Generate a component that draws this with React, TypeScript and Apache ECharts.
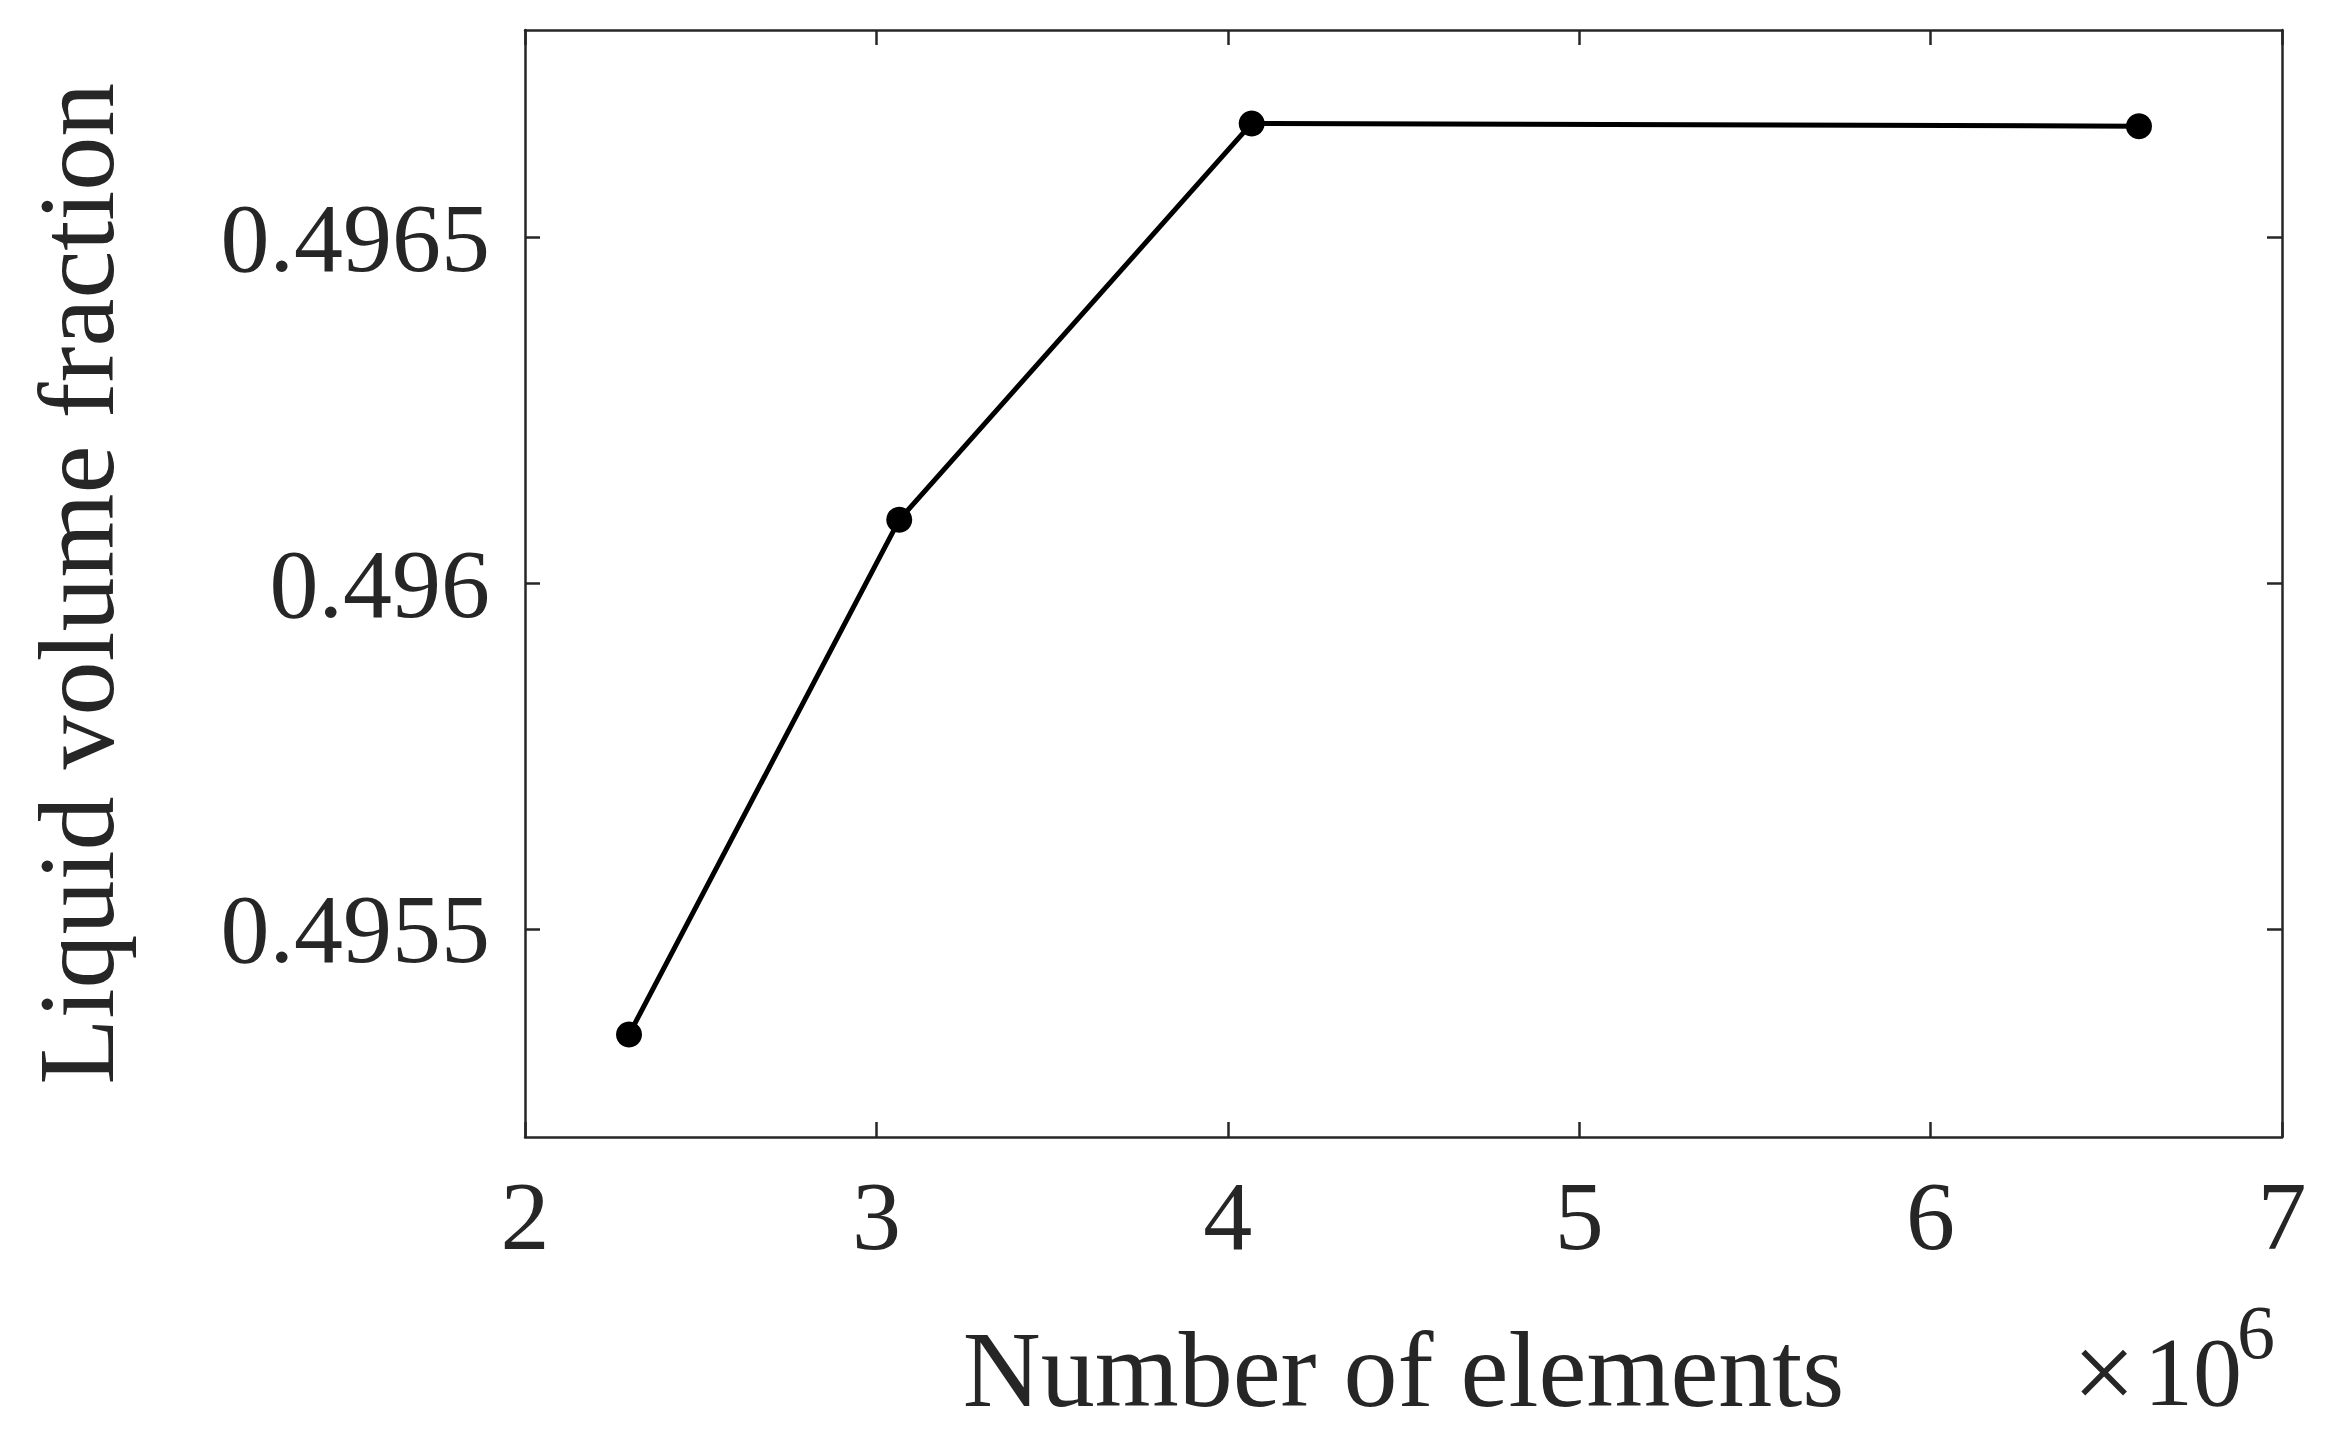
import React, { useEffect, useRef } from "react";
import * as echarts from "echarts";

// Number of elements (in units of 10^6)
const elementsMillions = [2.296, 3.065, 4.068, 6.593];
// Liquid volume fraction
const liquidFraction = [0.495348, 0.496092, 0.496665, 0.496661];

const xTickValues = [2, 3, 4, 5, 6, 7];
const yTickValues = [0.4955, 0.496, 0.4965];

const xName = "Number of elements";
const yName = "Liquid volume fraction";
const scaleTimes = "×";
const scaleBase = "10";
const scaleExp = "6";

const FONT = "Liberation Serif";
const TXT = "#262626";
const AX = "#262626";

export default function App() {
  const ref = useRef<HTMLDivElement>(null);

  useEffect(() => {
    if (!ref.current) return;
    const chart = echarts.init(ref.current, undefined, { renderer: "svg" });
    const axisLine = { show: true, onZero: false, lineStyle: { color: AX, width: 2.5 } };
    const tickIn = { show: true, inside: true, length: 15, lineStyle: { color: AX, width: 2.5 } };

    chart.setOption({
      animation: false,
      backgroundColor: "#ffffff",
      grid: { left: 525, right: 52, top: 30, bottom: 300, containLabel: false },
      xAxis: [
        {
          type: "value",
          min: 2,
          max: 7,
          interval: 1,
          axisLine,
          axisTick: tickIn,
          splitLine: { show: false },
          axisLabel: {
            margin: 30,
            fontFamily: FONT,
            fontSize: 98,
            color: TXT,
            customValues: xTickValues,
          },
          name: xName,
          nameLocation: "middle",
          nameGap: 178,
          nameTextStyle: { fontFamily: FONT, fontSize: 108, color: TXT },
        },
        {
          type: "value",
          position: "top",
          min: 2,
          max: 7,
          interval: 1,
          axisLine,
          axisTick: tickIn,
          axisLabel: { show: false },
          splitLine: { show: false },
        },
      ],
      yAxis: [
        {
          type: "value",
          min: 0.4952,
          max: 0.4968,
          axisLine,
          axisTick: { ...tickIn, customValues: yTickValues },
          splitLine: { show: false },
          axisLabel: {
            margin: 35,
            fontFamily: FONT,
            fontSize: 98,
            color: TXT,
            customValues: yTickValues,
            formatter: (v: number) => String(Math.round(v * 10000) / 10000),
          },
          name: yName,
          nameLocation: "middle",
          nameGap: 395,
          nameTextStyle: { fontFamily: FONT, fontSize: 108, color: TXT },
        },
        {
          type: "value",
          position: "right",
          min: 0.4952,
          max: 0.4968,
          axisLine,
          axisTick: { ...tickIn, customValues: yTickValues },
          axisLabel: { show: false },
          splitLine: { show: false },
        },
      ],
      graphic: [
        {
          type: "text",
          x: 2104,
          y: 1372,
          style: {
            text: scaleTimes,
            font: `112px "${FONT}"`,
            fill: TXT,
            align: "center",
            verticalAlign: "middle",
          },
        },
        {
          type: "text",
          x: 2242,
          y: 1372,
          style: {
            text: scaleBase,
            font: `98px "${FONT}"`,
            fill: TXT,
            align: "right",
            verticalAlign: "middle",
          },
        },
        {
          type: "text",
          x: 2237,
          y: 1332,
          style: {
            text: scaleExp,
            font: `76px "${FONT}"`,
            fill: TXT,
            align: "left",
            verticalAlign: "middle",
          },
        },
      ],
      series: [
        {
          type: "line",
          data: elementsMillions.map((x, i) => [x, liquidFraction[i]]),
          symbol: "circle",
          symbolSize: 26,
          lineStyle: { color: "#000000", width: 5 },
          itemStyle: { color: "#000000" },
          showSymbol: true,
        },
      ],
    });
    return () => chart.dispose();
  }, []);

  return (
    <div
      ref={ref}
      style={{ position: "fixed", left: 0, top: 0, width: 2334, height: 1437, background: "#fff" }}
    />
  );
}
